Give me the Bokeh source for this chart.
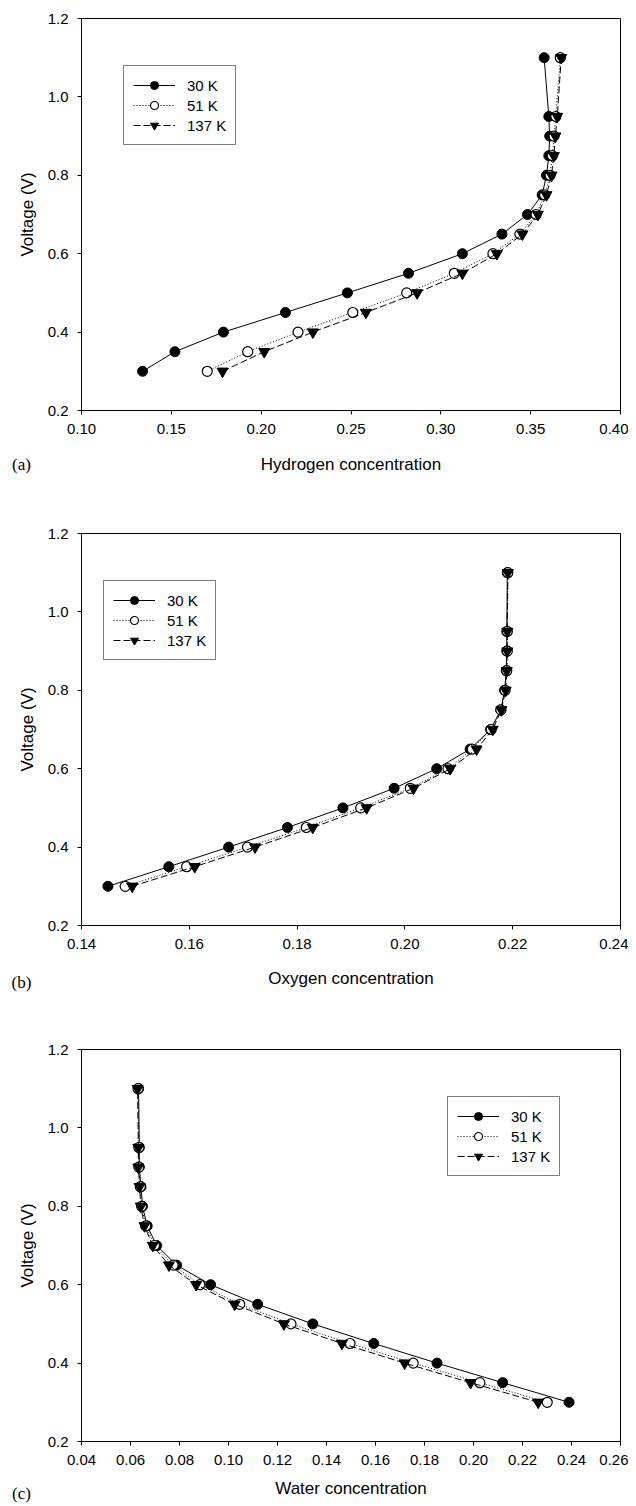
from bokeh.plotting import figure
from bokeh.layouts import column
from bokeh.models import Legend, LegendItem, Label, FixedTicker, PrintfTickFormatter, Range1d
from bokeh.embed import file_html
from bokeh.resources import INLINE

voltage = [0.30, 0.35, 0.40, 0.45, 0.50, 0.55, 0.60, 0.65, 0.70, 0.75, 0.80, 0.85, 0.90, 0.95, 1.10]
series_names = ["30 K", "51 K", "137 K"]

h2_30 = [0.134, 0.152, 0.179, 0.2135, 0.248, 0.282, 0.312, 0.334, 0.3482, 0.3564, 0.3588, 0.3601, 0.3606, 0.3601, 0.3575]
h2_51 = [0.170, 0.1925, 0.2205, 0.251, 0.281, 0.3075, 0.329, 0.344, 0.353, 0.3578, 0.3608, 0.3621, 0.3630, 0.3640, 0.3665]
h2_137 = [0.1785, 0.2017, 0.2288, 0.2583, 0.2868, 0.312, 0.3312, 0.3454, 0.354, 0.3588, 0.3616, 0.3629, 0.3638, 0.3648, 0.3670]

o2_30 = [0.1449, 0.1562, 0.1673, 0.1782, 0.1885, 0.1980, 0.2059, 0.2121, 0.2159, 0.2178, 0.2185, 0.2188, 0.2189, 0.2189, 0.2190]
o2_51 = [0.1481, 0.1595, 0.1708, 0.1817, 0.1918, 0.2010, 0.2080, 0.2125, 0.2160, 0.2178, 0.2186, 0.2189, 0.2190, 0.2190, 0.2191]
o2_137 = [0.1494, 0.1610, 0.1722, 0.1829, 0.1929, 0.2016, 0.2084, 0.2133, 0.2163, 0.2179, 0.2187, 0.2189, 0.2190, 0.2190, 0.2191]

w_30 = [0.2390, 0.2119, 0.1851, 0.1593, 0.1344, 0.1119, 0.0927, 0.0788, 0.0707, 0.0668, 0.0649, 0.0643, 0.0636, 0.0636, 0.0633]
w_51 = [0.2301, 0.2026, 0.1754, 0.1496, 0.1255, 0.1046, 0.0883, 0.0774, 0.0698, 0.0662, 0.0645, 0.0640, 0.0634, 0.0634, 0.0631]
w_137 = [0.2264, 0.1988, 0.1719, 0.1463, 0.1226, 0.1025, 0.0868, 0.0757, 0.0691, 0.0657, 0.0642, 0.0637, 0.0632, 0.0632, 0.0629]

x_ticks_a = [0.10, 0.15, 0.20, 0.25, 0.30, 0.35, 0.40]
x_ticks_b = [0.14, 0.16, 0.18, 0.20, 0.22, 0.24]
x_ticks_c = [0.04, 0.06, 0.08, 0.10, 0.12, 0.14, 0.16, 0.18, 0.20, 0.22, 0.24, 0.26]
y_ticks = [0.2, 0.4, 0.6, 0.8, 1.0, 1.2]

SANS = "Liberation Sans"
SERIF = "Liberation Serif"
FRAME_H = 392


def make_panel(series, xr, xticks, xlabel, tag, height, top, bottom, legend_x, title_standoff,
               tag_side, tag_y):
    p = figure(width=628, height=height, output_backend="svg", toolbar_location=None,
               x_range=Range1d(*xr), y_range=Range1d(0.2, 1.2),
               min_border_left=81, min_border_right=8, min_border_top=top, min_border_bottom=bottom)
    p.grid.visible = False
    p.outline_line_color = "black"
    p.outline_line_width = 1
    p.background_fill_color = "white"
    p.border_fill_color = "white"
    for ax in (p.xaxis[0], p.yaxis[0]):
        ax.major_tick_in = 0
        ax.major_tick_out = 4
        ax.minor_tick_line_color = None
        ax.axis_line_color = "black"
        ax.major_tick_line_color = "black"
        ax.major_label_text_font = SANS
        ax.major_label_text_font_size = "15px"
        ax.major_label_text_color = "black"
        ax.axis_label_text_font = SANS
        ax.axis_label_text_font_size = "17px"
        ax.axis_label_text_font_style = "normal"
        ax.axis_label_text_color = "black"
        ax.major_label_standoff = 9
    p.xaxis.ticker = FixedTicker(ticks=xticks)
    p.xaxis.formatter = PrintfTickFormatter(format="%.2f")
    p.yaxis.ticker = FixedTicker(ticks=y_ticks)
    p.yaxis.formatter = PrintfTickFormatter(format="%.1f")
    p.xaxis.axis_label = xlabel
    p.yaxis.axis_label = "Voltage (V)"
    p.xaxis.axis_label_standoff = title_standoff
    p.yaxis.axis_label_standoff = 8

    dashes = ["solid", "1 2", "7 3"]
    items = []
    for (xs, name, dash, kind) in zip(series, series_names, dashes, ["fill", "open", "tri"]):
        ln = p.line(xs, voltage, line_color="black", line_width=1, line_dash=dash)
        if kind == "fill":
            mk = p.scatter(xs, voltage, marker="circle", size=10, fill_color="black", line_color="black")
        elif kind == "open":
            mk = p.scatter(xs, voltage, marker="circle", size=10, fill_color="white", line_color="black", line_width=1.2)
        else:
            mk = p.scatter(xs, voltage, marker="inverted_triangle", size=11, fill_color="black", line_color="black")
        items.append(LegendItem(label=name, renderers=[ln, mk]))

    leg = Legend(items=items, location=(legend_x, 265), border_line_color="black", border_line_width=1,
                 background_fill_color="white", background_fill_alpha=1.0, padding=9, spacing=0,
                 label_height=20, glyph_height=20, glyph_width=42, label_standoff=12, margin=0,
                 label_text_font=SANS, label_text_font_size="15px", label_text_color="black")
    p.add_layout(leg, "center")

    p.add_layout(Label(x=-60, y=tag_y, x_units="screen", y_units="screen", text=tag,
                       text_font=SERIF, text_font_size="17px", text_align="center",
                       text_baseline="middle", text_color="black"), tag_side)
    return p


pa = make_panel([h2_30, h2_51, h2_137], (0.10, 0.40), x_ticks_a, "Hydrogen concentration", "(a)",
                499, 18, 89, 42, 18, "below", 31)
pb = make_panel([o2_30, o2_51, o2_137], (0.14, 0.24), x_ticks_b, "Oxygen concentration", "(b)",
                514, 34, 88, 22, 17, "below", 27)
pc = make_panel([w_30, w_51, w_137], (0.04, 0.26), x_ticks_c, "Water concentration", "(c)",
                491, 36, 63, 366, 11, "above", -(FRAME_H + 52))

layout = column(pa, pb, pc, spacing=0)
open("out.html", "w").write(file_html(layout, INLINE))
